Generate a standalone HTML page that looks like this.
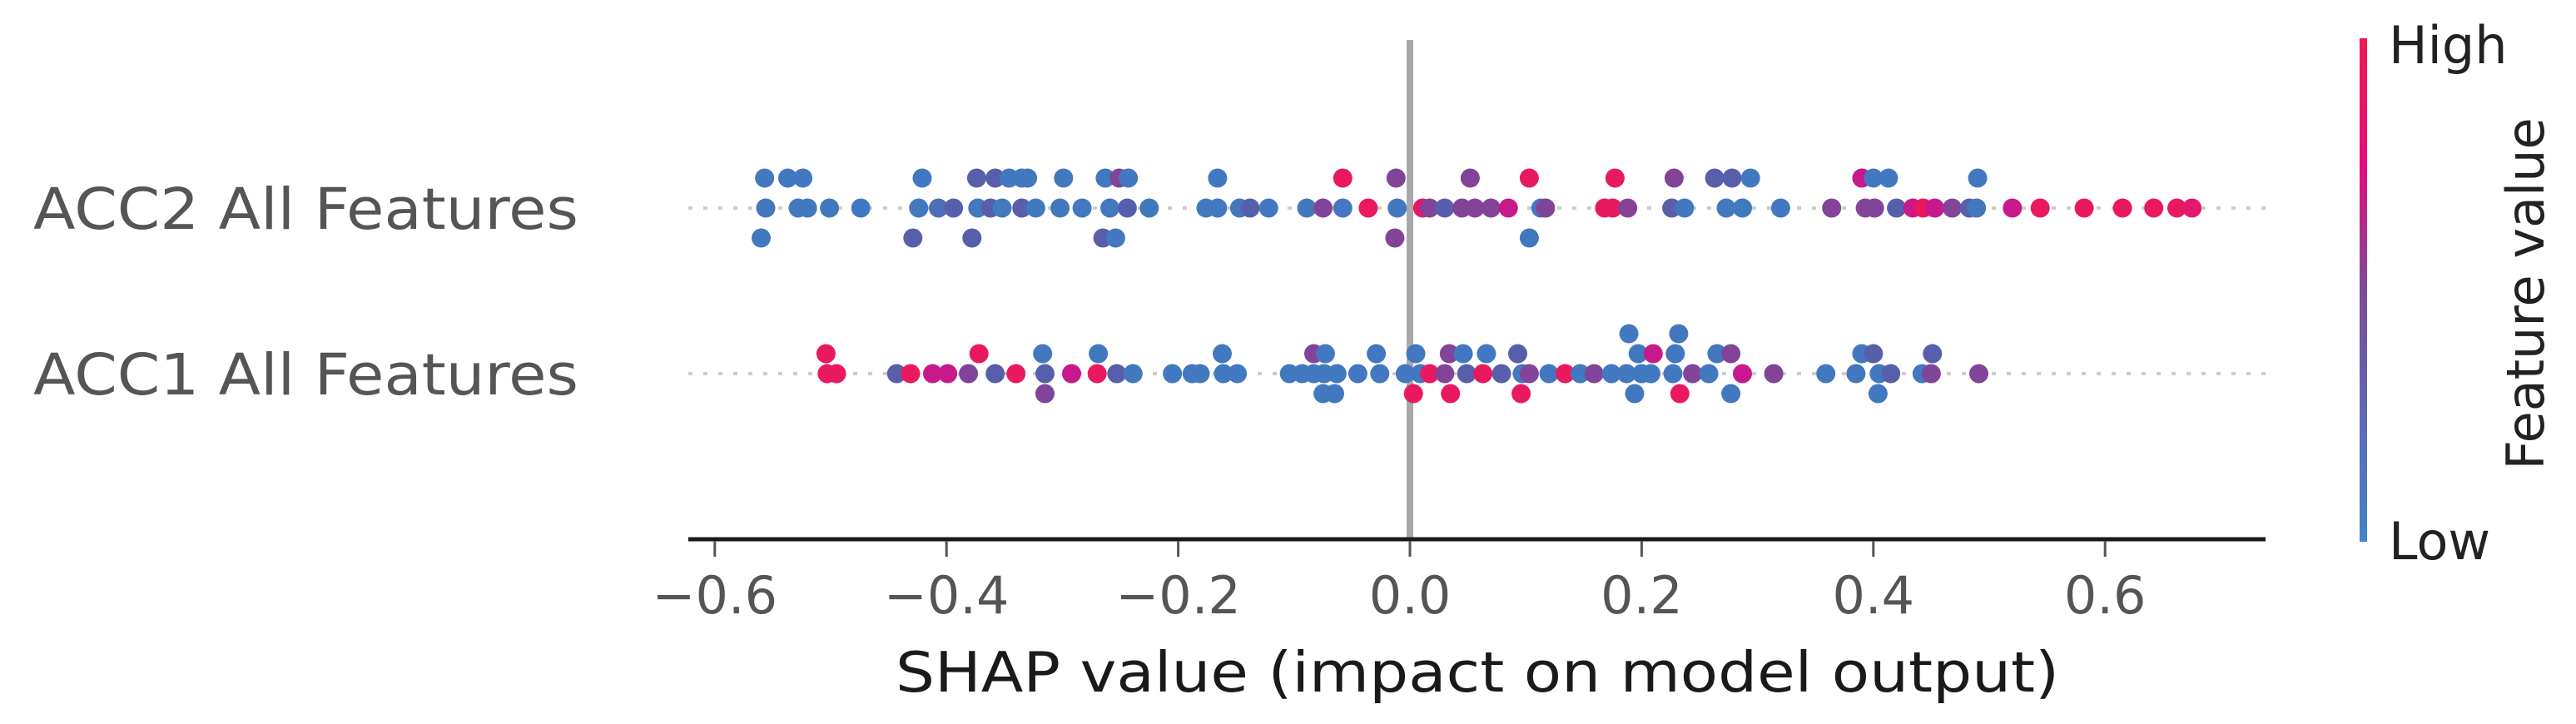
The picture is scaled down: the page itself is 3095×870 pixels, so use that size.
<!DOCTYPE html>
<html><head><meta charset="utf-8"><style>
html,body{margin:0;padding:0;background:#fff;}
svg{display:block;font-family:"DejaVu Sans","Liberation Sans",sans-serif;}
</style></head><body>
<svg id="chart" width="3095" height="870" viewBox="0 0 3095 870">
<defs><linearGradient id="cbg" x1="0" y1="1" x2="0" y2="0">
<stop offset="0" stop-color="#4086c8"/><stop offset="0.5" stop-color="#7d4b9b"/><stop offset="0.75" stop-color="#e60a7a"/><stop offset="1" stop-color="#f01a50"/></linearGradient></defs>
<g id="rowlines"></g>
<line x1="1694" y1="48" x2="1694" y2="648" stroke="#a9a9ab" stroke-width="8"/>
<g id="dots"></g>
<line x1="827" y1="648" x2="2722" y2="648" stroke="#1a1a1a" stroke-width="5"/>
<g id="ticks"></g>
<text x="1775" y="831" font-size="67" fill="#1a1a1a" text-anchor="middle" textLength="1398" lengthAdjust="spacingAndGlyphs">SHAP value (impact on model output)</text>
<g id="ylabels"></g>
<rect x="2835" y="46" width="9" height="605" fill="url(#cbg)"/>
<text x="2870" y="76" font-size="62" fill="#222">High</text>
<text x="2870" y="672" font-size="62" fill="#222">Low</text>
<text x="0" y="0" font-size="62" fill="#222" text-anchor="middle" transform="translate(3056,353) rotate(-90)">Feature value</text>
</svg>
<script>
const features = ["ACC2 All Features", "ACC1 All Features"];
const tickValues = [-0.6, -0.4, -0.2, 0.0, 0.2, 0.4, 0.6];
const tickLabels = ["\u22120.6", "\u22120.4", "\u22120.2", "0.0", "0.2", "0.4", "0.6"];
// ACC2 (per stacking layer): shap values and feature values (0 low .. 1 high)
const acc2TopShap = [-0.557,-0.537,-0.524,-0.421,-0.374,-0.358,-0.346,-0.335,-0.330,-0.299,-0.263,-0.251,-0.243,-0.166,-0.058,-0.012,0.052,0.103,0.177,0.228,0.263,0.278,0.294,0.390,0.400,0.413,0.490];
const acc2TopFeat = [0.05,0.05,0.05,0.05,0.3,0.3,0.05,0.05,0.05,0.05,0.05,0.5,0.05,0.05,0.95,0.5,0.5,0.95,0.95,0.5,0.3,0.3,0.05,0.72,0.05,0.05,0.05];
const acc2MidShap = [-0.556,-0.528,-0.520,-0.501,-0.474,-0.424,-0.407,-0.394,-0.373,-0.362,-0.352,-0.335,-0.323,-0.302,-0.283,-0.259,-0.244,-0.225,-0.176,-0.166,-0.147,-0.138,-0.122,-0.089,-0.075,-0.058,-0.036,-0.011,0.011,0.017,0.030,0.045,0.056,0.070,0.085,0.113,0.117,0.168,0.175,0.188,0.226,0.237,0.273,0.287,0.320,0.364,0.393,0.401,0.420,0.434,0.443,0.453,0.468,0.483,0.489,0.520,0.544,0.582,0.615,0.642,0.662,0.675];
const acc2MidFeat = [0.05,0.05,0.05,0.05,0.05,0.05,0.15,0.3,0.05,0.3,0.05,0.3,0.05,0.05,0.05,0.05,0.3,0.05,0.05,0.05,0.05,0.3,0.05,0.05,0.5,0.05,0.95,0.05,0.95,0.5,0.3,0.5,0.5,0.5,0.72,0.05,0.5,0.95,0.95,0.5,0.3,0.05,0.05,0.05,0.05,0.5,0.5,0.5,0.3,0.72,0.95,0.72,0.5,0.3,0.05,0.72,0.95,0.95,0.95,0.95,0.95,0.9];
const acc2BotShap = [-0.560,-0.429,-0.378,-0.265,-0.254,-0.013,0.103];
const acc2BotFeat = [0.05,0.3,0.3,0.3,0.05,0.5,0.05];
// ACC1
const acc1Top2Shap = [0.189,0.232];
const acc1Top2Feat = [0.05,0.05];
const acc1TopShap = [-0.504,-0.372,-0.317,-0.269,-0.162,-0.083,-0.073,-0.029,0.005,0.034,0.046,0.066,0.093,0.197,0.210,0.229,0.265,0.277,0.390,0.400,0.451];
const acc1TopFeat = [0.95,0.95,0.05,0.05,0.05,0.5,0.05,0.05,0.05,0.5,0.05,0.05,0.3,0.05,0.72,0.05,0.05,0.5,0.05,0.3,0.3];
const acc1MidShap = [-0.503,-0.495,-0.443,-0.431,-0.412,-0.399,-0.381,-0.358,-0.340,-0.315,-0.292,-0.270,-0.253,-0.239,-0.205,-0.188,-0.181,-0.161,-0.149,-0.104,-0.093,-0.083,-0.074,-0.063,-0.045,-0.026,-0.004,0.009,0.017,0.030,0.049,0.063,0.079,0.097,0.103,0.120,0.134,0.147,0.159,0.174,0.187,0.200,0.208,0.227,0.244,0.258,0.287,0.314,0.359,0.385,0.405,0.415,0.442,0.450,0.491];
const acc1MidFeat = [0.95,0.95,0.3,0.95,0.72,0.72,0.5,0.3,0.95,0.3,0.72,0.95,0.3,0.05,0.05,0.05,0.05,0.05,0.05,0.05,0.05,0.05,0.05,0.05,0.05,0.05,0.05,0.05,0.95,0.5,0.3,0.95,0.3,0.05,0.5,0.05,0.95,0.05,0.5,0.05,0.05,0.05,0.05,0.05,0.5,0.05,0.72,0.5,0.05,0.05,0.05,0.3,0.05,0.5,0.5];
const acc1BotShap = [-0.315,-0.075,-0.065,0.003,0.035,0.096,0.194,0.233,0.277,0.404];
const acc1BotFeat = [0.5,0.05,0.05,0.95,0.95,0.95,0.05,0.95,0.05,0.05];

const NS="http://www.w3.org/2000/svg";
const X0=1694, PXU=1392;
function xScale(v){return X0+v*PXU;}
const rowY=[250,449], rowSpacing=[36,24];
function mix(a,b,t){return a.map((c,i)=>Math.round(c+(b[i]-c)*t));}
function color(f){
  const s=[[0,[62,125,196]],[0.3,[88,95,170]],[0.5,[130,68,152]],[0.72,[200,25,140]],[1,[240,25,85]]];
  for(let i=1;i<s.length;i++){if(f<=s[i][0]){const t=(f-s[i-1][0])/(s[i][0]-s[i-1][0]);const c=mix(s[i-1][1],s[i][1],t);return `rgb(${c[0]},${c[1]},${c[2]})`;}}
  return "rgb(240,25,85)";
}
const rl=document.getElementById('rowlines');
rowY.forEach(function(y){
  const l=document.createElementNS(NS,'line');
  l.setAttribute('x1',827);l.setAttribute('x2',2722);l.setAttribute('y1',y);l.setAttribute('y2',y);
  l.setAttribute('stroke','#cccccc');l.setAttribute('stroke-width',4);l.setAttribute('stroke-dasharray','5,13');
  
  
  rl.appendChild(l);
});
const dg=document.getElementById('dots');
function drawLayer(shap,feat,r,layer){
  for(let i=0;i<shap.length;i++){
    const c=document.createElementNS(NS,'circle');
    c.setAttribute('cx',xScale(shap[i]).toFixed(1));
    c.setAttribute('cy',rowY[r]+layer*rowSpacing[r]);
    c.setAttribute('r',11.5);
    c.setAttribute('fill',color(feat[i]));
    
    
    dg.appendChild(c);
  }
}
drawLayer(acc2TopShap,acc2TopFeat,0,-1);
drawLayer(acc2MidShap,acc2MidFeat,0,0);
drawLayer(acc2BotShap,acc2BotFeat,0,1);
drawLayer(acc1Top2Shap,acc1Top2Feat,1,-2);
drawLayer(acc1TopShap,acc1TopFeat,1,-1);
drawLayer(acc1MidShap,acc1MidFeat,1,0);
drawLayer(acc1BotShap,acc1BotFeat,1,1);
const tg=document.getElementById('ticks');
tickValues.forEach(function(v,i){
  const x=xScale(v);
  const l=document.createElementNS(NS,'line');
  l.setAttribute('x1',x);l.setAttribute('x2',x);l.setAttribute('y1',650);l.setAttribute('y2',669);
  l.setAttribute('stroke','#555');l.setAttribute('stroke-width',3);
  
  
  tg.appendChild(l);
  const t=document.createElementNS(NS,'text');
  t.setAttribute('x',x);t.setAttribute('y',737);t.setAttribute('font-size',62);
  t.setAttribute('fill','#555');t.setAttribute('text-anchor','middle');
  t.textContent=tickLabels[i];
  
  
  tg.appendChild(t);
});
const yg=document.getElementById('ylabels');
features.forEach(function(f,i){
  const t=document.createElementNS(NS,'text');
  t.setAttribute('x',695);t.setAttribute('y',rowY[i]+25);t.setAttribute('font-size',69);
  t.setAttribute('fill','#555');t.setAttribute('text-anchor','end');
  t.setAttribute('textLength',655);t.setAttribute('lengthAdjust','spacingAndGlyphs');
  t.textContent=f;
  
  
  yg.appendChild(t);
});
</script>
</body></html>
